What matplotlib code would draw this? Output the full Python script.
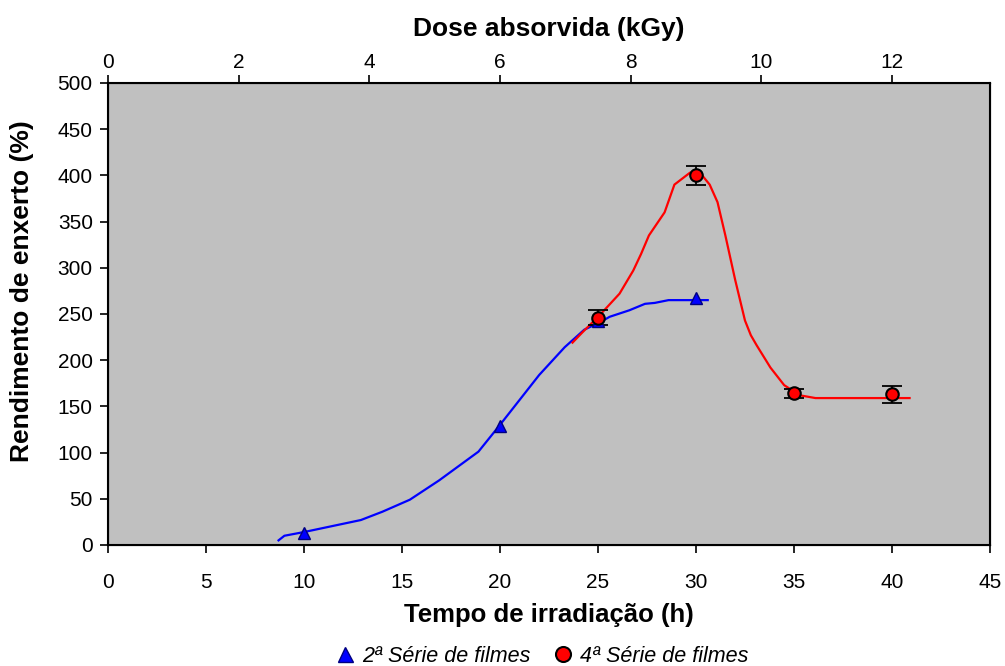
import matplotlib.pyplot as plt

plt.rcParams['font.family'] = ['Liberation Sans', 'DejaVu Sans']

# measured points
t_serie2 = [10, 20, 25, 30]
y_serie2 = [13, 129, 242, 267]

t_serie4 = [25, 30, 35, 40]
y_serie4 = [246, 400, 164, 163]
err_serie4 = [8, 10, 5, 9]

# smoothed trend lines
t_fit2 = [8.7, 9.0, 10.0, 12.9, 14.0, 15.4, 16.9, 18.9, 20.0, 21.0, 22.0,
          23.3, 24.3, 25.1, 25.6, 26.6, 27.4, 27.9, 28.6, 30.2, 30.6]
y_fit2 = [5, 10, 14, 27, 36, 49, 70, 101, 130, 157, 184,
          214, 233, 241, 247, 254, 261, 262, 265, 265, 265]

t_fit4 = [23.7, 24.2, 25.1, 26.1, 26.8, 27.2, 27.6, 28.4, 28.9, 29.7, 30.2,
          30.7, 31.1, 31.5, 32.0, 32.5, 32.8, 33.1, 33.8, 34.5, 35.3, 36.1,
          36.8, 40.9]
y_fit4 = [219, 230, 249, 272, 297, 315, 335, 360, 390, 403, 403,
          390, 371, 335, 287, 243, 227, 216, 192, 173, 162, 159,
          159, 159]

fig = plt.figure(figsize=(10.05, 6.66), dpi=100)
ax = fig.add_axes([0.1075, 0.1817, 0.8775, 0.6937])
ax.set_facecolor('#c0c0c0')

ax.plot(t_fit2, y_fit2, color='#0000ff', lw=1.6, zorder=2)
ax.plot(t_fit4, y_fit4, color='#ff0000', lw=1.6, zorder=2)

ax.errorbar(t_serie4, y_serie4, yerr=err_serie4, fmt='none', ecolor='black',
            elinewidth=1.3, capsize=7, capthick=1.3, zorder=3)
tri, = ax.plot(t_serie2, y_serie2, linestyle='none', marker='^', markersize=9,
               markerfacecolor='#0000ff', markeredgecolor='#000080', zorder=4)
circ, = ax.plot(t_serie4, y_serie4, linestyle='none', marker='o', markersize=9,
                markerfacecolor='#ff0000', markeredgecolor='black',
                markeredgewidth=1.5, zorder=5)

ax.set_xlim(0, 45)
ax.set_ylim(0, 500)
ax.set_xticks(range(0, 46, 5))
ax.set_yticks(range(0, 501, 50))
ax.tick_params(labelsize=15, length=6, width=1.2, direction='out', pad=5)
ax.tick_params(axis='x', pad=14)
for s in ax.spines.values():
    s.set_linewidth(1.5)

ax.set_xlabel('Tempo de irradiação (h)', fontsize=18.5, fontweight='bold', labelpad=8)
ax.set_ylabel('Rendimento de enxerto (%)', fontsize=19, fontweight='bold')
ax.yaxis.set_label_coords(-0.084, 0.55)

top = ax.twiny()
top.set_xlim(0, 45 / (10 / 3))
top.set_xticks(range(0, 13, 2))
top.tick_params(labelsize=15, length=6, width=1.2, direction='out', pad=2)
top.set_xlabel('Dose absorvida (kGy)', fontsize=19, fontweight='bold', labelpad=12)

fig.legend([tri, circ], ['2ª Série de filmes', '4ª Série de filmes'],
           loc='lower center', bbox_to_anchor=(0.539, -0.03), ncol=2,
           frameon=False, prop={'style': 'italic', 'size': 15.5},
           handletextpad=0.3, columnspacing=1.0, handlelength=1.0,
           markerscale=1.2)

fig.savefig('out.png', dpi=100)
